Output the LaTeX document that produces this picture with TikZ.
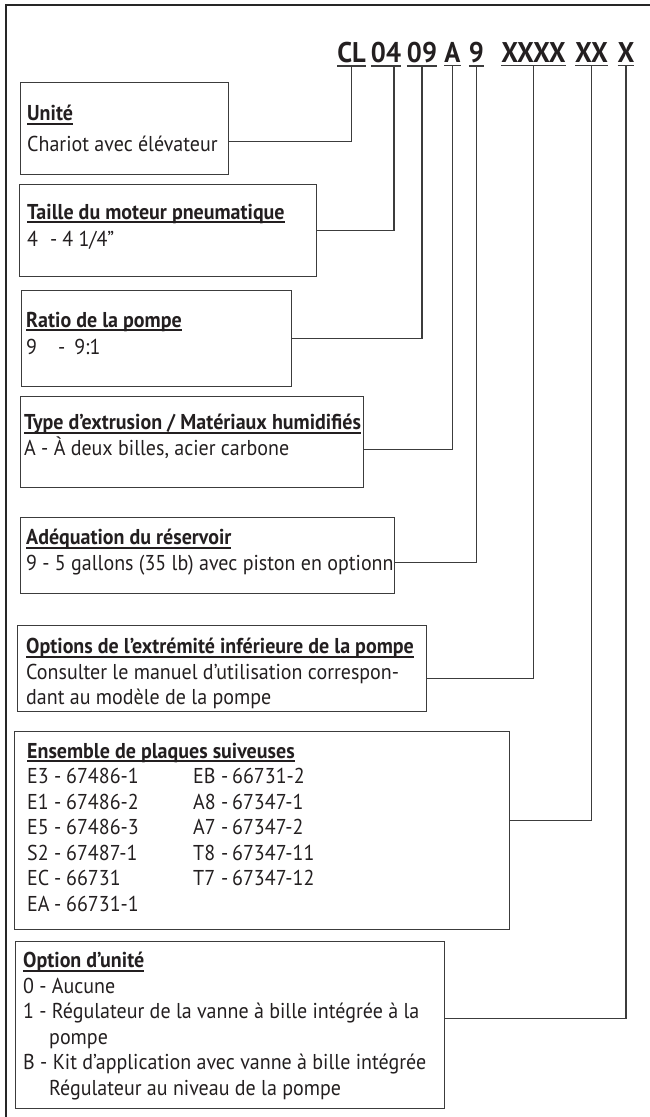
\documentclass[tikz,border=0pt]{standalone}
\usepackage{fontspec}
\setmainfont{PT Sans}[FakeStretch=0.93]
\usetikzlibrary{positioning}
\definecolor{ink}{RGB}{35,31,32}
\definecolor{rulegray}{RGB}{60,60,60}
\newcommand{\hd}[1]{\setbox0\hbox{\bfseries #1}\rlap{\rule[-4pt]{\wd0}{2pt}}\box0}
\newcommand{\platerow}[4]{\makebox[166pt][l]{\makebox[27pt][l]{#1}\makebox[12pt][l]{-}#2}\makebox[28pt][l]{#3}\makebox[11pt][l]{-}#4}
\tikzset{
  box/.style={draw=rulegray, line width=1.3pt, rectangle, anchor=north west, inner sep=0pt},
  txt/.style={anchor=north west, inner sep=0pt, align=left, text=ink, font=\fontsize{21.5}{25.5}\selectfont},
  code/.style={anchor=base, inner xsep=0pt, inner ysep=3.5pt, outer sep=0pt, text=ink, font=\fontsize{28.5}{30}\selectfont\bfseries},
  link/.style={draw=rulegray, line width=1.1pt},
}
\begin{document}
\begin{tikzpicture}[x=1pt,y=-1pt]
\useasboundingbox (0,0) rectangle (650,1117);
\draw[black!85, line width=2pt] (6,1130) |- (660,5);

% model code
\foreach \n/\t/\x in {cl/CL/351.5, motor/04/386, ratio/09/422, ext/A/452.5, tank/9/476.5, lower/XXXX/533.5, plate/XX/591.5, opt/X/626}
{\node[code] (\n) at (\x,62) {\t};
 \draw[link, line width=1.4pt] (\n.south west) -- (\n.south east);}

% boxes
\node[box, minimum width=208pt, minimum height=92pt] (unitbox) at (20,82) {};
\node[txt, below right=23pt and 7pt of unitbox.north west] (unittxt) {\hd{Unité}\\[5pt]Chariot avec élévateur};

\node[box, minimum width=297pt, minimum height=92pt] (motorbox) at (19,184) {};
\node[txt, below right=20pt and 8pt of motorbox.north west] (motortxt) {\hd{Taille du moteur pneumatique}\\[2pt]4\hspace{12pt}-\hspace{5pt}4 1/4”};

\node[box, minimum width=270pt, minimum height=96pt] (ratiobox) at (21,290) {};
\node[txt, below right=22pt and 5pt of ratiobox.north west] (ratiotxt) {\hd{Ratio de la pompe}\\[2pt]9\hspace{21pt}-\hspace{9pt}9:1};

\node[box, minimum width=343pt, minimum height=91pt] (extbox) at (20,396) {};
\node[txt, below right=18pt and 4pt of extbox.north west] (exttxt) {\hd{Type d’extrusion / Matériaux humidifiés}\\A - À deux billes, acier carbone};

\node[box, minimum width=374pt, minimum height=76pt] (tankbox) at (20,517) {};
\node[txt, below right=12pt and 6pt of tankbox.north west] (tanktxt) {\hd{Adéquation du réservoir}\\9 - 5 gallons (35 lb) avec piston en optionn};

\node[box, minimum width=409pt, minimum height=86pt] (lowerbox) at (17,625) {};
\node[txt, below right=13pt and 9pt of lowerbox.north west] (lowertxt) {\hd{Options de l’extrémité inférieure de la pompe}\\Consulter le manuel d’utilisation correspon-\\dant au modèle de la pompe};

\node[box, minimum width=495pt, minimum height=198pt] (platebox) at (14,731) {};
\node[txt, below right=12pt and 13pt of platebox.north west] (platetxt) {\hd{Ensemble de plaques suiveuses}\\
  \platerow{E3}{67486-1}{EB}{66731-2}\\
  \platerow{E1}{67486-2}{A8}{67347-1}\\
  \platerow{E5}{67486-3}{A7}{67347-2}\\
  \platerow{S2}{67487-1}{T8}{67347-11}\\
  \platerow{EC}{66731}{T7}{67347-12}\\
  \makebox[27pt][l]{EA}\makebox[12pt][l]{-}66731-1};

\node[box, minimum width=429pt, minimum height=167pt] (optbox) at (15,941) {};
\node[txt, below right=11pt and 8pt of optbox.north west] (opttxt) {\hd{Option d’unité}\\0 - Aucune\\
  1 - Régulateur de la vanne à bille intégrée à la\\\hspace*{26pt}pompe\\
  B - Kit d’application avec vanne à bille intégrée\\\hspace*{26pt}Régulateur au niveau de la pompe};

% connectors
\draw[link] (cl.south) |- ([yshift=-13pt]unitbox.east);
\draw[link] ([xshift=8pt]motor.south) |- (motorbox.east);
\draw[link] (ratio.south) |- (ratiobox.east);
\draw[link] (ext.south) |- ([yshift=-7.5pt]extbox.east);
\draw[link] (tank.south) |- ([yshift=-7pt]tankbox.east);
\draw[link] (lower.south) |- ([yshift=-10pt]lowerbox.east);
\draw[link] (plate.south) |- ([yshift=10pt]platebox.east);
\draw[link] (opt.south) |- ([yshift=6.5pt]optbox.east);
\end{tikzpicture}
\end{document}
